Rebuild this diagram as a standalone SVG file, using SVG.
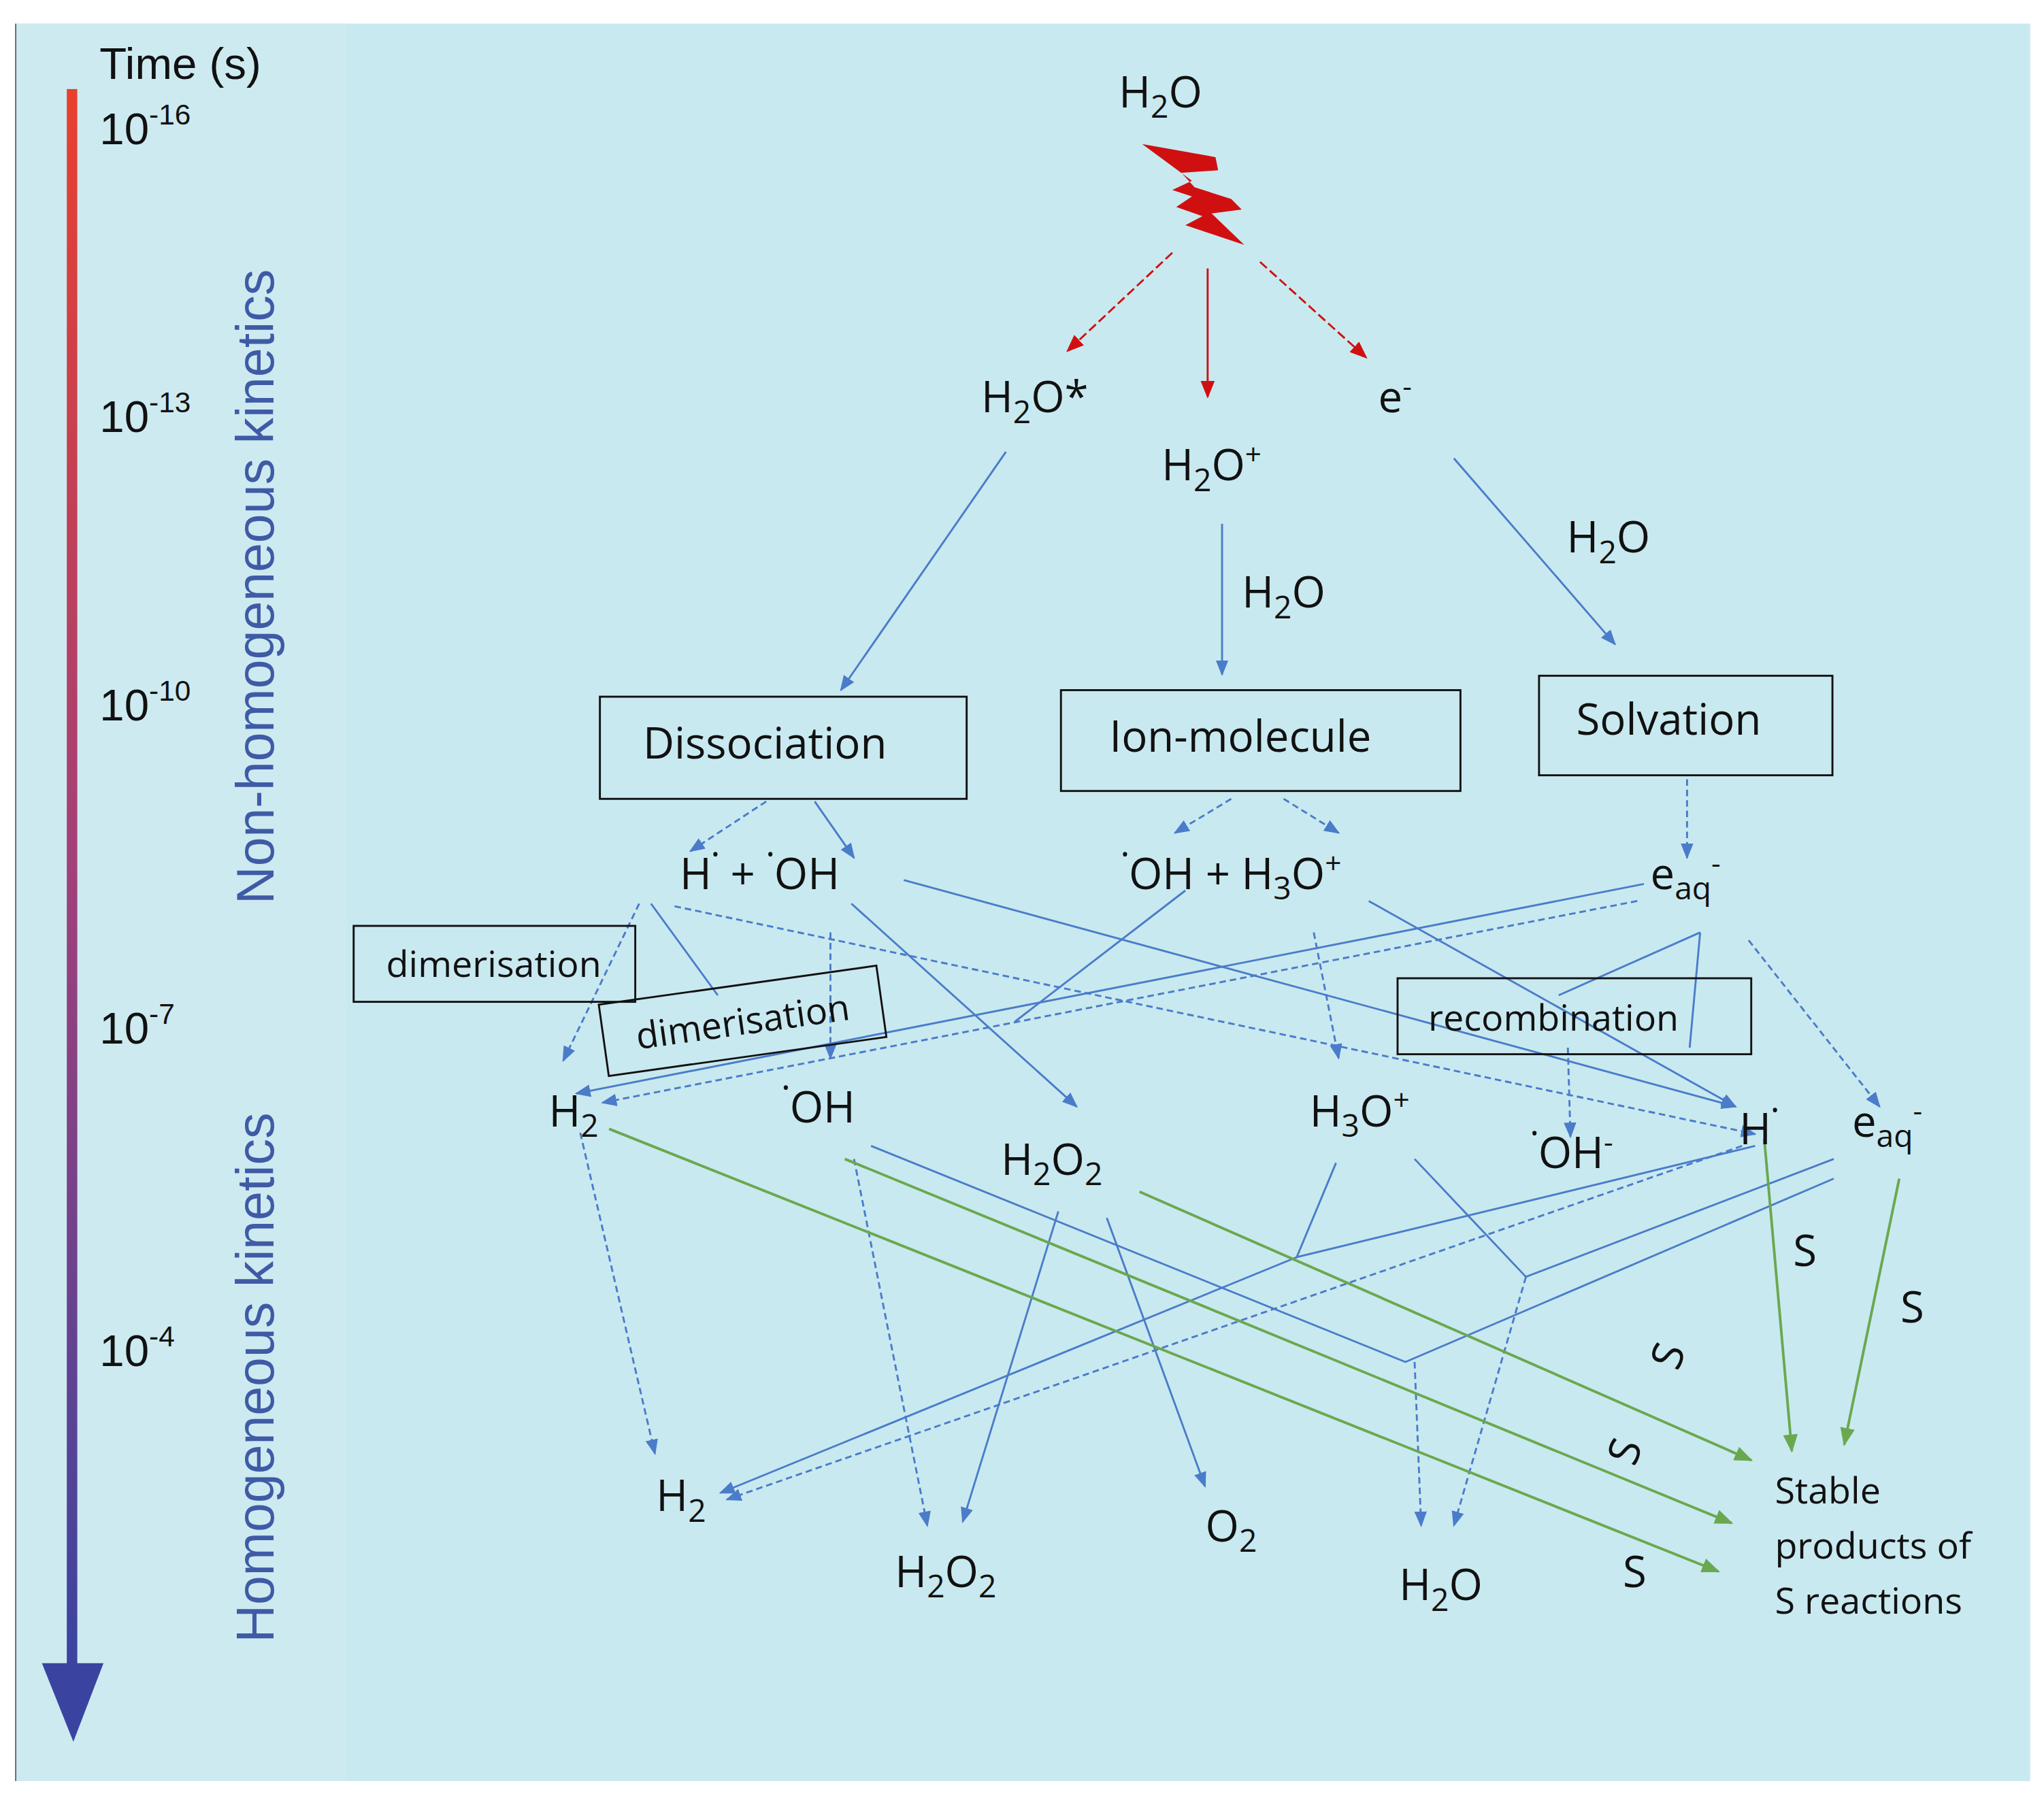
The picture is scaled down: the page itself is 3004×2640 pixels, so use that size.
<svg xmlns="http://www.w3.org/2000/svg" width="3004" height="2640" viewBox="0 0 3004 2640">
<defs>
<style>
.t{font-family:"Open Sans","Liberation Sans",sans-serif;font-size:33px;fill:#111}
.ax{font-family:"Liberation Sans",sans-serif;font-size:34px;fill:#111}
.sub{font-size:24px}
.sup{font-size:22px}
.vt{font-family:"Liberation Sans",sans-serif;font-size:40px;fill:#3f5ba6}
.box{fill:none;stroke:#111;stroke-width:1.5}
.b{stroke:#4a7cc9;stroke-width:1.5;fill:none}
.bd{stroke:#4a7cc9;stroke-width:1.5;fill:none;stroke-dasharray:5 3}
.r{stroke:#d01010;stroke-width:1.5;fill:none;stroke-dasharray:7 3}
.g{stroke:#6aa84f;stroke-width:2;fill:none}
</style>
<marker id="ab" viewBox="0 0 10 10" refX="9" refY="5" markerWidth="8" markerHeight="8" orient="auto"><path d="M0,1 L10,5 L0,9 z" fill="#4a7cc9"/></marker>
<marker id="ar" viewBox="0 0 10 10" refX="9" refY="5" markerWidth="9" markerHeight="9" orient="auto"><path d="M0,1 L10,5 L0,9 z" fill="#d01010"/></marker>
<marker id="ag" viewBox="0 0 10 10" refX="9" refY="5" markerWidth="7" markerHeight="7" orient="auto"><path d="M0,1 L10,5 L0,9 z" fill="#6aa84f"/></marker>
<linearGradient id="bar" x1="0" y1="0" x2="0" y2="1"><stop offset="0" stop-color="#e8402e"/><stop offset="0.5" stop-color="#a0407a"/><stop offset="1" stop-color="#3a44a0"/></linearGradient>
</defs>
<rect width="3004" height="2640" fill="#ffffff"/>
<g transform="scale(1.925)">
<rect x="12" y="18" width="1538" height="1342" fill="#c9e9f0"/>
<rect x="12" y="18" width="253" height="1342" fill="#cdeaf1"/>
<line x1="12" y1="18" x2="12" y2="1360" stroke="#666" stroke-width="1"/>
<g id="axis">
<rect x="51" y="68" width="8" height="1205" fill="url(#bar)"/>
<path d="M32,1270 L79,1270 L56,1330 z" fill="#3a44a0"/>
<text class="ax" x="76" y="60">Time (s)</text>
<text class="ax" x="76" y="110">10<tspan class="sup" dy="-15">-16</tspan></text>
<text class="ax" x="76" y="330">10<tspan class="sup" dy="-15">-13</tspan></text>
<text class="ax" x="76" y="550">10<tspan class="sup" dy="-15">-10</tspan></text>
<text class="ax" x="76" y="797">10<tspan class="sup" dy="-15">-7</tspan></text>
<text class="ax" x="76" y="1043">10<tspan class="sup" dy="-15">-4</tspan></text>
<text class="vt" transform="translate(209,448) rotate(-90)" text-anchor="middle">Non-homogeneous kinetics</text>
<text class="vt" transform="translate(209,1052) rotate(-90)" text-anchor="middle">Homogeneous kinetics</text>
</g>
<path d="M872,110 L928,120 L930,130 L902,132 L912,143 L940,152 L948,160 L925,163 L950,187 L905,172 L918,165 L898,158 L910,150 L895,145 L910,138 z" fill="#d01010"/>
<g id="connectors">
<line class="r" x1="895" y1="193" x2="815" y2="268" marker-end="url(#ar)"/>
<line x1="922" y1="205" x2="922" y2="303" stroke="#d01010" stroke-width="1.5" marker-end="url(#ar)"/>
<line class="r" x1="962" y1="200" x2="1043" y2="273" marker-end="url(#ar)"/>
<line class="b" x1="768" y1="345" x2="642" y2="527" marker-end="url(#ab)"/>
<line class="b" x1="933" y1="400" x2="933" y2="515" marker-end="url(#ab)"/>
<line class="b" x1="1110" y1="350" x2="1233" y2="492" marker-end="url(#ab)"/>
<line class="bd" x1="585" y1="612" x2="527" y2="650" marker-end="url(#ab)"/>
<line class="b" x1="622" y1="612" x2="652" y2="655" marker-end="url(#ab)"/>
<line class="bd" x1="940" y1="610" x2="897" y2="636" marker-end="url(#ab)"/>
<line class="bd" x1="980" y1="610" x2="1022" y2="636" marker-end="url(#ab)"/>
<line class="bd" x1="1288" y1="595" x2="1288" y2="655" marker-end="url(#ab)"/>
<line class="bd" x1="488" y1="690" x2="430" y2="810" marker-end="url(#ab)"/>
<line class="b" x1="497" y1="690" x2="548" y2="760"/>
<line class="bd" x1="634" y1="712" x2="634" y2="808" marker-end="url(#ab)"/>
<line class="b" x1="650" y1="690" x2="822" y2="845" marker-end="url(#ab)"/>
<line class="b" x1="690" y1="672" x2="1325" y2="845" marker-end="url(#ab)"/>
<line class="bd" x1="515" y1="692" x2="1340" y2="866" marker-end="url(#ab)"/>
<line class="bd" x1="1003" y1="712" x2="1022" y2="808" marker-end="url(#ab)"/>
<line class="b" x1="905" y1="680" x2="775" y2="780"/>
<line class="b" x1="1255" y1="675" x2="440" y2="835" marker-end="url(#ab)"/>
<line class="bd" x1="1250" y1="688" x2="460" y2="842" marker-end="url(#ab)"/>
<line class="b" x1="1045" y1="688" x2="1325" y2="845" marker-end="url(#ab)"/>
<line class="b" x1="1298" y1="712" x2="1190" y2="760"/>
<line class="b" x1="1298" y1="712" x2="1290" y2="800"/>
<line class="bd" x1="1335" y1="718" x2="1435" y2="845" marker-end="url(#ab)"/>
<line class="bd" x1="1197" y1="800" x2="1199" y2="868" marker-end="url(#ab)"/>
<line class="bd" x1="443" y1="865" x2="500" y2="1110" marker-end="url(#ab)"/>
<line class="bd" x1="652" y1="885" x2="708" y2="1165" marker-end="url(#ab)"/>
<line class="b" x1="808" y1="925" x2="735" y2="1162" marker-end="url(#ab)"/>
<line class="b" x1="845" y1="930" x2="920" y2="1135" marker-end="url(#ab)"/>
<polyline class="b" points="665,875 1073,1040 1400,900"/>
<line class="bd" x1="1080" y1="1040" x2="1085" y2="1165" marker-end="url(#ab)"/>
<polyline class="b" points="1020,888 990,960 1340,875"/>
<line class="b" x1="990" y1="960" x2="550" y2="1140" marker-end="url(#ab)"/>
<polyline class="b" points="1080,885 1165,975 1400,885"/>
<line class="bd" x1="1165" y1="975" x2="1110" y2="1165" marker-end="url(#ab)"/>
<line class="bd" x1="1330" y1="875" x2="555" y2="1145" marker-end="url(#ab)"/>
<line class="g" x1="465" y1="862" x2="1312" y2="1200" marker-end="url(#ag)"/>
<line class="g" x1="645" y1="885" x2="1322" y2="1163" marker-end="url(#ag)"/>
<line class="g" x1="870" y1="910" x2="1337" y2="1115" marker-end="url(#ag)"/>
<line class="g" x1="1347" y1="870" x2="1368" y2="1108" marker-end="url(#ag)"/>
<line class="g" x1="1450" y1="900" x2="1408" y2="1103" marker-end="url(#ag)"/>
</g>
<g id="n_h2o_top"><text class="t" x="886" y="82" text-anchor="middle">H<tspan class="sub" dy="8">2</tspan><tspan dy="-8">O</tspan></text></g>
<g id="n_h2ostar"><text class="t" x="790" y="315" text-anchor="middle">H<tspan class="sub" dy="8">2</tspan><tspan dy="-8">O*</tspan></text></g>
<g id="n_h2oplus"><text class="t" x="925" y="367" text-anchor="middle">H<tspan class="sub" dy="8">2</tspan><tspan dy="-8">O</tspan><tspan class="sup" dy="-12">+</tspan></text></g>
<g id="n_e"><text class="t" x="1065" y="315" text-anchor="middle">e<tspan class="sup" dy="-12">-</tspan></text></g>
<g id="l_h2o1"><text class="t" x="980" y="464" text-anchor="middle">H<tspan class="sub" dy="8">2</tspan><tspan dy="-8">O</tspan></text></g>
<g id="l_h2o2"><text class="t" x="1228" y="422" text-anchor="middle">H<tspan class="sub" dy="8">2</tspan><tspan dy="-8">O</tspan></text></g>
<g id="n_diss"><rect class="box" x="458" y="532" width="280" height="78"/><text class="t" x="584" y="579" text-anchor="middle">Dissociation</text></g>
<g id="n_ion"><rect class="box" x="810" y="527" width="305" height="77"/><text class="t" x="947" y="574" text-anchor="middle">Ion-molecule</text></g>
<g id="n_solv"><rect class="box" x="1175" y="516" width="224" height="76"/><text class="t" x="1274" y="561" text-anchor="middle">Solvation</text></g>
<g id="n_hoh"><text class="t" x="580" y="679" text-anchor="middle">H<tspan dy="-4">˙</tspan><tspan dy="4"> + </tspan><tspan dy="-4">˙</tspan><tspan dy="4">OH</tspan></text></g>
<g id="n_ohh3o"><text class="t" x="940" y="679" text-anchor="middle"><tspan dy="-4">˙</tspan><tspan dy="4">OH + H</tspan><tspan class="sub" dy="8">3</tspan><tspan dy="-8">O</tspan><tspan class="sup" dy="-12">+</tspan></text></g>
<g id="n_eaq1"><text class="t" x="1260" y="679">e<tspan class="sub" dy="8">aq</tspan><tspan class="sup" dy="-20">-</tspan></text></g>
<g id="n_dim1"><rect class="box" x="270" y="707" width="215" height="58"/><text class="t" x="377" y="746" text-anchor="middle" style="font-size:28px">dimerisation</text></g>
<g id="n_dim2" transform="rotate(-8 567 780)"><rect class="box" x="460" y="752" width="214" height="55"/><text class="t" x="567" y="790" text-anchor="middle" style="font-size:28px">dimerisation</text></g>
<g id="n_recomb"><rect class="box" x="1067" y="747" width="270" height="58"/><text class="t" x="1186" y="787" text-anchor="middle" style="font-size:28px">recombination</text></g>
<g id="n_h2a"><text class="t" x="438" y="860" text-anchor="middle">H<tspan class="sub" dy="8">2</tspan></text></g>
<g id="n_oh"><text class="t" x="625" y="857" text-anchor="middle"><tspan dy="-4">˙</tspan><tspan dy="4">OH</tspan></text></g>
<g id="n_h2o2a"><text class="t" x="803" y="897" text-anchor="middle">H<tspan class="sub" dy="8">2</tspan><tspan dy="-8">O</tspan><tspan class="sub" dy="8">2</tspan></text></g>
<g id="n_h3o"><text class="t" x="1038" y="860" text-anchor="middle">H<tspan class="sub" dy="8">3</tspan><tspan dy="-8">O</tspan><tspan class="sup" dy="-12">+</tspan></text></g>
<g id="n_ohm"><text class="t" x="1200" y="892" text-anchor="middle"><tspan dy="-4">˙</tspan><tspan dy="4">OH</tspan><tspan class="sup" dy="-12">-</tspan></text></g>
<g id="n_h"><text class="t" x="1343" y="874" text-anchor="middle">H<tspan dy="-4">˙</tspan></text></g>
<g id="n_eaq2"><text class="t" x="1414" y="868">e<tspan class="sub" dy="8">aq</tspan><tspan class="sup" dy="-20">-</tspan></text></g>
<g id="n_h2b"><text class="t" x="520" y="1154" text-anchor="middle">H<tspan class="sub" dy="8">2</tspan></text></g>
<g id="n_h2o2b"><text class="t" x="722" y="1212" text-anchor="middle">H<tspan class="sub" dy="8">2</tspan><tspan dy="-8">O</tspan><tspan class="sub" dy="8">2</tspan></text></g>
<g id="n_o2"><text class="t" x="940" y="1177" text-anchor="middle">O<tspan class="sub" dy="8">2</tspan></text></g>
<g id="n_h2oc"><text class="t" x="1100" y="1222" text-anchor="middle">H<tspan class="sub" dy="8">2</tspan><tspan dy="-8">O</tspan></text></g>
<g id="n_stable"><text class="t" style="font-size:28px" x="1355" y="1148">Stable</text><text class="t" style="font-size:28px" x="1355" y="1190">products of</text><text class="t" style="font-size:28px" x="1355" y="1232">S reactions</text></g>
<g id="s_labels">
<text class="t" x="1378" y="967" text-anchor="middle">S</text>
<text class="t" x="1460" y="1010" text-anchor="middle">S</text>
<text class="t" transform="translate(1273,1035) rotate(-70)" text-anchor="middle" dy="12">S</text>
<text class="t" transform="translate(1240,1108) rotate(-70)" text-anchor="middle" dy="12">S</text>
<text class="t" x="1248" y="1212" text-anchor="middle">S</text>
</g>
</g>
</svg>
